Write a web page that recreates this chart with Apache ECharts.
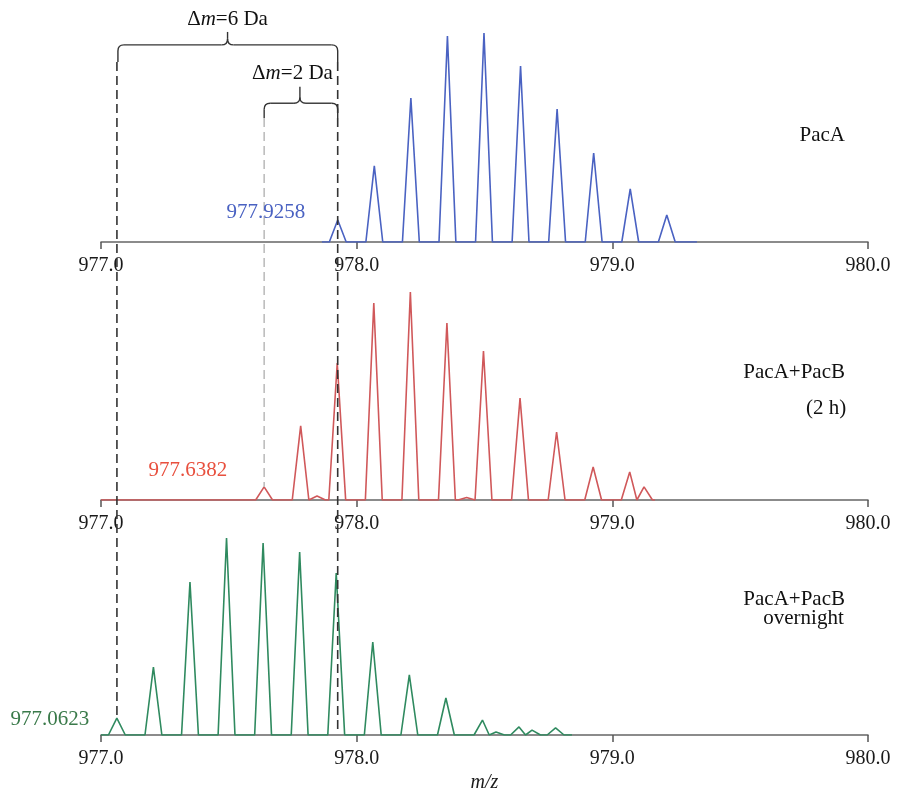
<!DOCTYPE html>
<html>
<head>
<meta charset="utf-8">
<script src="https://cdn.jsdelivr.net/npm/echarts@6/dist/echarts.min.js"></script>
<style>
  html, body { margin: 0; background: #fff; }
  #main { width: 898px; height: 796px; }
</style>
</head>
<body>
<div id="main"></div>
<script>
// peak m/z and relative height (% of the tallest peak in its panel)
var pacA_mz  = [977.926, 978.069, 978.212, 978.355, 978.498, 978.641, 978.784, 978.927, 979.070, 979.213];
var pacA_int = [10.5, 36.4, 68.9, 98.6, 100, 84.2, 63.6, 42.6, 25.4, 12.9];
var pacA_range = [977.864, 979.331];

var pacB2h_mz  = [977.638, 977.781, 977.845, 977.924, 978.067, 978.210, 978.353, 978.430, 978.496, 978.639, 978.782, 978.925, 979.068, 979.124];
var pacB2h_int = [6.3, 35.6, 1.9, 65.9, 94.7, 100, 85.1, 1.2, 71.6, 49.0, 32.7, 15.9, 13.5, 6.3];
var pacB2h_range = [977.0, 979.167];

var pacBon_mz  = [977.062, 977.205, 977.348, 977.491, 977.634, 977.777, 977.920, 978.063, 978.206, 978.349, 978.492, 978.545, 978.635, 978.686, 978.778];
var pacBon_int = [8.6, 34.5, 77.7, 100, 97.5, 92.9, 82.2, 47.2, 30.5, 18.8, 7.6, 1.5, 4.1, 2.5, 3.6];
var pacBon_range = [977.0, 978.842];

// monoisotopic peaks marked with dashed lines
var mono = [977.0623, 977.6382, 977.9258];

var peakHalfWidth = 0.033;
var serif = '"Liberation Serif", "Times New Roman", serif';

function spectrum(range, mz, inten) {
  var pts = [[range[0], 0]];
  for (var i = 0; i < mz.length; i++) {
    var wl = peakHalfWidth, wr = peakHalfWidth;
    if (i > 0) wl = Math.min(wl, (mz[i] - mz[i - 1]) / 2);
    if (i < mz.length - 1) wr = Math.min(wr, (mz[i + 1] - mz[i]) / 2);
    pts.push([mz[i] - wl, 0], [mz[i], inten[i]], [mz[i] + wr, 0]);
  }
  pts.push([range[1], 0]);
  return pts;
}

var grids = [
  {left: 101, right: 30, top: 33, height: 209},
  {left: 101, right: 30, top: 292, height: 208},
  {left: 101, right: 30, top: 538, height: 197}
];

function xAxisFor(i) {
  var ax = {
    type: 'value', gridIndex: i, min: 977, max: 980, interval: 1,
    axisLine: {lineStyle: {color: '#666', width: 1.5}},
    axisTick: {length: 7, lineStyle: {color: '#555', width: 1.5}},
    splitLine: {show: false},
    axisLabel: {
      formatter: function (v) { return v.toFixed(1); },
      fontFamily: serif, fontSize: 20, color: '#1a1a1a', margin: 14
    }
  };
  if (i === 2) {
    ax.name = 'm/z';
    ax.nameLocation = 'middle';
    ax.nameGap = 38;
    ax.nameTextStyle = {fontFamily: serif, fontStyle: 'italic', fontSize: 20, color: '#1a1a1a'};
  }
  return ax;
}

function line(i, data, color) {
  return {
    type: 'line', xAxisIndex: i, yAxisIndex: i, data: data,
    symbol: 'none', showSymbol: false, animation: false,
    lineStyle: {color: color, width: 1.6}
  };
}

var chart = echarts.init(document.getElementById('main'));
chart.setOption({
  animation: false,
  grid: grids,
  xAxis: [xAxisFor(0), xAxisFor(1), xAxisFor(2)],
  yAxis: [0, 1, 2].map(function (i) { return {type: 'value', gridIndex: i, min: 0, max: 100, show: false}; }),
  series: [
    line(0, spectrum(pacA_range, pacA_mz, pacA_int), '#4a62c2'),
    line(1, spectrum(pacB2h_range, pacB2h_mz, pacB2h_int), '#d0585a'),
    line(2, spectrum(pacBon_range, pacBon_mz, pacBon_int), '#2f8a5f')
  ]
});

function px(g, x, y) { return chart.convertToPixel({gridIndex: g}, [x, y]); }

var els = [];
var ink = {stroke: '#333', lineWidth: 1.4, fill: null};

// dashed guide lines: [m/z, top grid, top y, bottom grid, bottom y, color]
var guides = [
  [mono[0], 0, 86.1, 2, 8.6, '#333'],
  [mono[2], 0, 86.1, 2, 1.5, '#333'],
  [mono[1], 0, 59.3, 1, 6.3, '#bdbdbd']
];
guides.forEach(function (d) {
  var a = px(d[1], d[0], d[2]), b = px(d[3], d[0], d[4]);
  els.push({
    type: 'line', z: 100,
    shape: {x1: a[0], y1: a[1], x2: b[0], y2: b[1]},
    style: {stroke: d[5], lineWidth: 1.6, lineDash: [9, 5]}
  });
});

// braces between monoisotopic peaks
function seg(x1, y1, x2, y2) {
  els.push({type: 'line', z: 100, shape: {x1: x1, y1: y1, x2: x2, y2: y2}, style: ink});
}
function curve(x1, y1, cx, cy, x2, y2) {
  els.push({type: 'bezierCurve', z: 100, shape: {x1: x1, y1: y1, cpx1: cx, cpy1: cy, x2: x2, y2: y2}, style: ink});
}
function brace(x1, x2, xm, yLine, yLeg, yTip) {
  var L = px(0, x1, yLine), R = px(0, x2, yLine), M = px(0, xm, yTip);
  var yb = px(0, x1, yLeg)[1], y = L[1], r = 6;
  var X1 = L[0], X2 = R[0], XM = M[0], YC = M[1];
  seg(X1, yb, X1, y + r);
  curve(X1, y + r, X1, y, X1 + r, y);
  seg(X1 + r, y, XM - r, y);
  curve(XM - r, y, XM, y, XM, y - r);
  seg(XM, y - r, XM, YC);
  curve(XM, y - r, XM, y, XM + r, y);
  seg(XM + r, y, X2 - r, y);
  curve(X2 - r, y, X2, y, X2, y + r);
  seg(X2, y + r, X2, yb);
}
brace(977.0662, 977.9258, 977.495, 94.3, 86.1, 100.5);
brace(977.6382, 977.9258, 977.778, 66.4, 59.3, 74.3);

// text annotations: [grid, m/z, y, text, color, align]
var notes = [
  [0, 977.495, 106.7, '{n|Δ}{i|m}{n|=6 Da}', '#111', 'center'],
  [0, 977.749, 80.6, '{n|Δ}{i|m}{n|=2 Da}', '#111', 'center'],
  [0, 977.645, 13.9, '977.9258', '#4a62c2', 'center'],
  [1, 977.340, 14.4, '977.6382', '#e8503e', 'center'],
  [2, 976.800, 8.1, '977.0623', '#3a7a4a', 'center'],
  [0, 979.91, 51.2, 'PacA', '#111', 'right'],
  [1, 979.91, 61.5, 'PacA+PacB', '#111', 'right'],
  [1, 979.915, 44.2, '(2 h)', '#111', 'right'],
  [2, 979.91, 69.0, 'PacA+PacB', '#111', 'right'],
  [2, 979.905, 58.9, 'overnight', '#111', 'right']
];
notes.forEach(function (n) {
  var p = px(n[0], n[1], n[2]);
  els.push({
    type: 'text', z: 100, x: p[0], y: p[1],
    style: {
      text: n[3], fill: n[4], font: '21px ' + serif,
      align: n[5], verticalAlign: 'middle', textAlign: n[5], textVerticalAlign: 'middle',
      rich: {
        n: {fontSize: 21, fontFamily: serif, fill: n[4]},
        i: {fontSize: 21, fontFamily: serif, fontStyle: 'italic', fill: n[4]}
      }
    }
  });
});

chart.setOption({graphic: {elements: els}});
</script>
</body>
</html>
